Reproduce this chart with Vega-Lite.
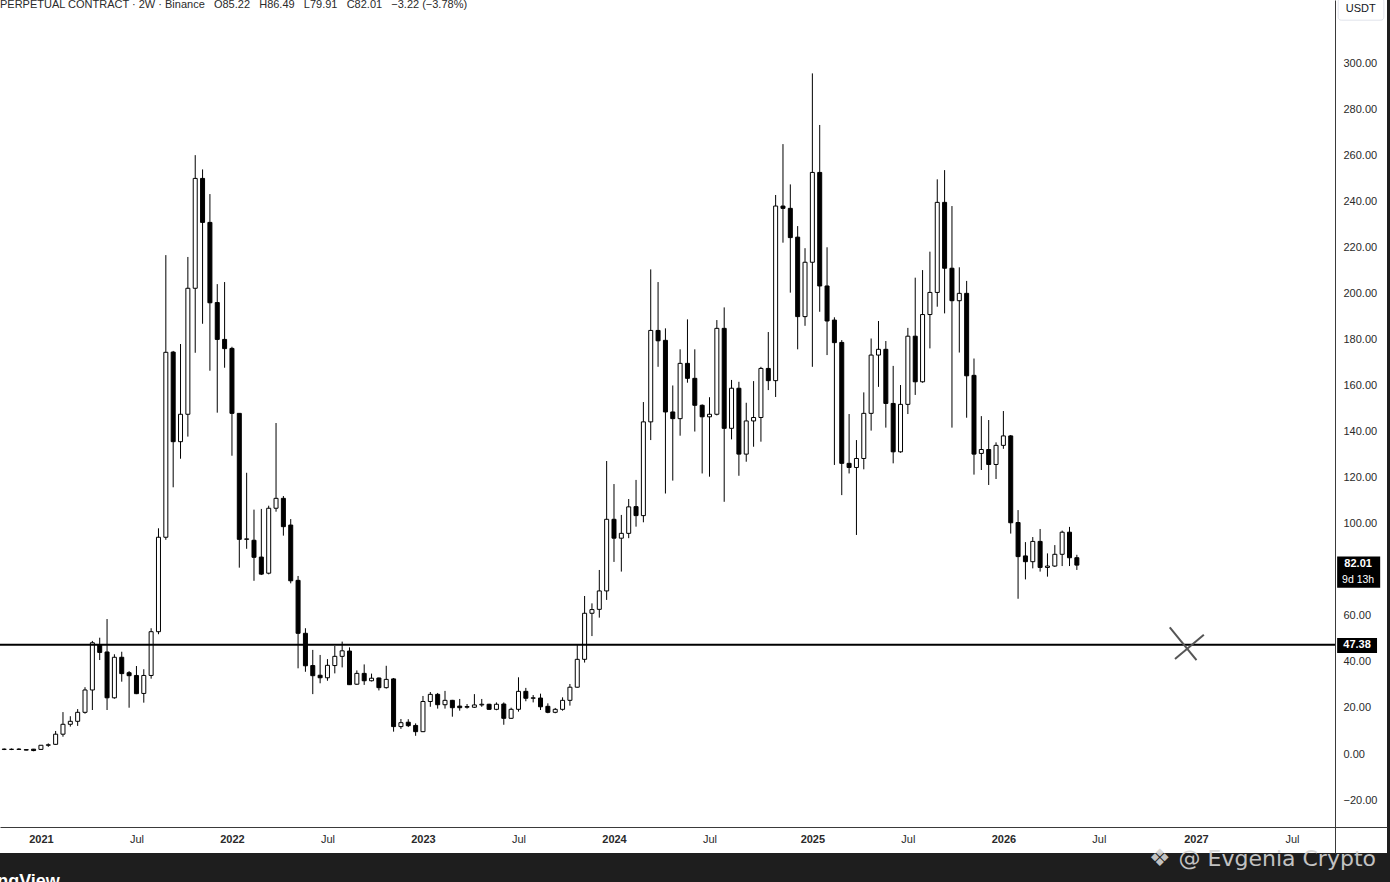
{
  "$schema": "https://vega.github.io/schema/vega-lite/v6.json",
  "width": 1387,
  "height": 853,
  "autosize": {"type": "none"},
  "padding": {"left": 0, "top": 0, "right": 3, "bottom": 29},
  "background": "#1e1e1e",
  "config": {"view": {"fill": "#ffffff", "stroke": null}, "font": "Liberation Sans"},
  "layer": [
    {
      "data": {"values": [
        {"date":"2020-10-26","open":2.0,"high":2.4,"low":1.7,"close":2.1},
        {"date":"2020-11-09","open":2.0,"high":2.4,"low":1.7,"close":2.05},
        {"date":"2020-11-23","open":2.0,"high":2.5,"low":1.8,"close":2.1},
        {"date":"2020-12-07","open":1.9,"high":1.95,"low":1.6,"close":1.7},
        {"date":"2020-12-21","open":2.1,"high":2.2,"low":1.2,"close":1.5},
        {"date":"2021-01-04","open":2.0,"high":3.9,"low":1.8,"close":3.8},
        {"date":"2021-01-18","open":3.8,"high":4.6,"low":3.1,"close":4.0},
        {"date":"2021-02-01","open":4.2,"high":10.0,"low":4.0,"close":8.6},
        {"date":"2021-02-15","open":8.6,"high":18.2,"low":7.5,"close":12.9},
        {"date":"2021-03-01","open":12.9,"high":16.4,"low":11.9,"close":14.2},
        {"date":"2021-03-15","open":14.2,"high":19.5,"low":12.2,"close":18.1},
        {"date":"2021-03-29","open":18.1,"high":29.0,"low":17.5,"close":27.8},
        {"date":"2021-04-12","open":27.8,"high":49.1,"low":19.1,"close":48.3},
        {"date":"2021-04-26","open":47.5,"high":50.5,"low":40.8,"close":44.1},
        {"date":"2021-05-10","open":44.3,"high":58.6,"low":19.1,"close":24.4},
        {"date":"2021-05-24","open":24.4,"high":43.3,"low":24.0,"close":42.0},
        {"date":"2021-06-07","open":42.0,"high":44.4,"low":31.4,"close":34.9},
        {"date":"2021-06-21","open":35.3,"high":36.0,"low":20.1,"close":34.0},
        {"date":"2021-07-05","open":34.1,"high":38.2,"low":26.0,"close":26.2},
        {"date":"2021-07-19","open":26.3,"high":36.8,"low":22.3,"close":34.1},
        {"date":"2021-08-02","open":34.1,"high":54.6,"low":32.7,"close":53.1},
        {"date":"2021-08-16","open":53.1,"high":98.0,"low":52.0,"close":94.1},
        {"date":"2021-08-30","open":94.1,"high":216.6,"low":93.0,"close":174.4},
        {"date":"2021-09-13","open":174.5,"high":175.0,"low":115.8,"close":135.6},
        {"date":"2021-09-27","open":135.6,"high":178.0,"low":128.2,"close":147.5},
        {"date":"2021-10-11","open":147.5,"high":215.8,"low":137.8,"close":202.2},
        {"date":"2021-10-25","open":202.2,"high":260.0,"low":174.2,"close":249.9},
        {"date":"2021-11-08","open":249.9,"high":253.8,"low":186.8,"close":230.8},
        {"date":"2021-11-22","open":230.8,"high":243.1,"low":166.4,"close":195.9},
        {"date":"2021-12-06","open":196.0,"high":204.0,"low":148.2,"close":180.0},
        {"date":"2021-12-20","open":180.0,"high":204.9,"low":167.7,"close":176.0},
        {"date":"2022-01-03","open":176.1,"high":176.8,"low":129.5,"close":147.9},
        {"date":"2022-01-17","open":147.9,"high":148.0,"low":80.9,"close":93.2},
        {"date":"2022-01-31","open":93.2,"high":122.1,"low":89.1,"close":93.4},
        {"date":"2022-02-14","open":92.8,"high":106.1,"low":75.2,"close":85.4},
        {"date":"2022-02-28","open":85.5,"high":106.4,"low":77.7,"close":78.1},
        {"date":"2022-03-14","open":78.5,"high":107.8,"low":78.0,"close":106.7},
        {"date":"2022-03-28","open":106.7,"high":143.7,"low":105.2,"close":111.0},
        {"date":"2022-04-11","open":111.0,"high":112.0,"low":94.8,"close":98.7},
        {"date":"2022-04-25","open":99.4,"high":102.0,"low":74.1,"close":75.2},
        {"date":"2022-05-09","open":75.4,"high":77.3,"low":37.2,"close":52.4},
        {"date":"2022-05-23","open":52.4,"high":54.6,"low":35.7,"close":38.3},
        {"date":"2022-06-06","open":38.4,"high":45.2,"low":26.0,"close":34.0},
        {"date":"2022-06-20","open":34.2,"high":43.0,"low":30.7,"close":33.1},
        {"date":"2022-07-04","open":33.1,"high":41.2,"low":31.8,"close":38.5},
        {"date":"2022-07-18","open":38.4,"high":46.9,"low":35.0,"close":42.4},
        {"date":"2022-08-01","open":42.4,"high":48.8,"low":37.6,"close":44.8},
        {"date":"2022-08-15","open":44.7,"high":46.3,"low":30.0,"close":30.1},
        {"date":"2022-08-29","open":30.3,"high":36.3,"low":30.0,"close":35.0},
        {"date":"2022-09-12","open":35.0,"high":38.9,"low":30.0,"close":31.8},
        {"date":"2022-09-26","open":31.8,"high":34.9,"low":31.5,"close":32.9},
        {"date":"2022-10-10","open":33.0,"high":33.2,"low":27.6,"close":28.8},
        {"date":"2022-10-24","open":28.8,"high":38.3,"low":28.4,"close":32.4},
        {"date":"2022-11-07","open":32.6,"high":33.0,"low":9.7,"close":11.9},
        {"date":"2022-11-21","open":11.9,"high":15.2,"low":10.9,"close":13.6},
        {"date":"2022-12-05","open":13.8,"high":15.1,"low":11.7,"close":12.3},
        {"date":"2022-12-19","open":12.4,"high":13.3,"low":7.9,"close":9.7},
        {"date":"2023-01-02","open":9.7,"high":25.2,"low":9.5,"close":22.8},
        {"date":"2023-01-16","open":22.8,"high":26.9,"low":20.5,"close":25.9},
        {"date":"2023-01-30","open":25.9,"high":26.5,"low":19.7,"close":21.4},
        {"date":"2023-02-13","open":21.4,"high":27.4,"low":19.7,"close":23.3},
        {"date":"2023-02-27","open":23.3,"high":23.5,"low":16.2,"close":20.1},
        {"date":"2023-03-13","open":20.8,"high":23.9,"low":18.8,"close":20.1},
        {"date":"2023-03-27","open":20.3,"high":21.7,"low":19.7,"close":20.6},
        {"date":"2023-04-10","open":20.3,"high":26.0,"low":20.0,"close":21.3},
        {"date":"2023-04-24","open":21.3,"high":23.9,"low":20.5,"close":21.6},
        {"date":"2023-05-08","open":21.6,"high":21.8,"low":19.2,"close":19.4},
        {"date":"2023-05-22","open":19.4,"high":22.4,"low":19.0,"close":21.6},
        {"date":"2023-06-05","open":21.7,"high":22.4,"low":12.7,"close":15.5},
        {"date":"2023-06-19","open":15.5,"high":20.1,"low":15.3,"close":19.4},
        {"date":"2023-07-03","open":19.4,"high":33.3,"low":18.4,"close":27.2},
        {"date":"2023-07-17","open":27.2,"high":28.7,"low":22.9,"close":24.2},
        {"date":"2023-07-31","open":24.2,"high":25.6,"low":22.4,"close":24.4},
        {"date":"2023-08-14","open":24.3,"high":26.2,"low":19.1,"close":20.5},
        {"date":"2023-08-28","open":20.7,"high":22.0,"low":17.7,"close":18.1},
        {"date":"2023-09-11","open":18.1,"high":20.0,"low":17.7,"close":19.4},
        {"date":"2023-09-25","open":19.4,"high":24.6,"low":18.8,"close":23.3},
        {"date":"2023-10-09","open":23.3,"high":30.4,"low":21.0,"close":29.0},
        {"date":"2023-10-23","open":29.0,"high":47.3,"low":28.8,"close":41.1},
        {"date":"2023-11-06","open":41.1,"high":68.6,"low":39.7,"close":61.1},
        {"date":"2023-11-20","open":61.1,"high":65.4,"low":51.2,"close":62.7},
        {"date":"2023-12-04","open":62.8,"high":79.9,"low":59.2,"close":70.8},
        {"date":"2023-12-18","open":70.8,"high":127.2,"low":66.9,"close":101.9},
        {"date":"2024-01-01","open":101.9,"high":117.2,"low":83.4,"close":93.7},
        {"date":"2024-01-15","open":93.7,"high":103.8,"low":79.2,"close":95.8},
        {"date":"2024-01-29","open":95.8,"high":110.7,"low":93.7,"close":107.3},
        {"date":"2024-02-12","open":107.4,"high":119.0,"low":98.7,"close":103.5},
        {"date":"2024-02-26","open":103.5,"high":152.8,"low":100.6,"close":144.2},
        {"date":"2024-03-11","open":144.2,"high":210.4,"low":136.3,"close":183.9},
        {"date":"2024-03-25","open":183.9,"high":204.9,"low":168.1,"close":179.4},
        {"date":"2024-04-08","open":179.6,"high":184.8,"low":113.1,"close":148.5},
        {"date":"2024-04-22","open":148.5,"high":160.0,"low":118.7,"close":145.6},
        {"date":"2024-05-06","open":145.6,"high":175.7,"low":138.2,"close":169.6},
        {"date":"2024-05-20","open":169.6,"high":188.7,"low":161.2,"close":163.1},
        {"date":"2024-06-03","open":163.1,"high":175.7,"low":140.0,"close":151.4},
        {"date":"2024-06-17","open":151.4,"high":151.8,"low":121.8,"close":146.4},
        {"date":"2024-07-01","open":146.4,"high":154.9,"low":120.4,"close":147.5},
        {"date":"2024-07-15","open":147.5,"high":188.4,"low":147.0,"close":184.8},
        {"date":"2024-07-29","open":184.8,"high":193.9,"low":109.5,"close":141.4},
        {"date":"2024-08-12","open":141.4,"high":162.4,"low":136.6,"close":158.8},
        {"date":"2024-08-26","open":158.8,"high":161.6,"low":120.8,"close":130.2},
        {"date":"2024-09-09","open":130.2,"high":152.5,"low":126.9,"close":144.6},
        {"date":"2024-09-23","open":144.6,"high":161.9,"low":133.4,"close":146.1},
        {"date":"2024-10-07","open":146.1,"high":168.1,"low":135.6,"close":167.4},
        {"date":"2024-10-21","open":167.4,"high":183.2,"low":158.0,"close":162.1},
        {"date":"2024-11-04","open":162.1,"high":242.7,"low":155.0,"close":237.9},
        {"date":"2024-11-18","open":237.9,"high":264.8,"low":222.0,"close":236.9},
        {"date":"2024-12-02","open":236.9,"high":247.3,"low":200.3,"close":224.2},
        {"date":"2024-12-16","open":224.4,"high":229.2,"low":175.7,"close":189.9},
        {"date":"2024-12-30","open":189.9,"high":219.6,"low":185.9,"close":213.5},
        {"date":"2025-01-13","open":213.5,"high":295.5,"low":168.1,"close":252.5},
        {"date":"2025-01-27","open":252.5,"high":273.1,"low":192.0,"close":203.2},
        {"date":"2025-02-10","open":203.2,"high":220.0,"low":173.2,"close":188.0},
        {"date":"2025-02-24","open":188.4,"high":189.6,"low":125.5,"close":178.6},
        {"date":"2025-03-10","open":178.7,"high":179.7,"low":112.4,"close":126.2},
        {"date":"2025-03-24","open":126.2,"high":147.6,"low":121.8,"close":124.4},
        {"date":"2025-04-07","open":124.4,"high":136.3,"low":95.1,"close":128.3},
        {"date":"2025-04-21","open":128.3,"high":157.0,"low":123.6,"close":147.9},
        {"date":"2025-05-05","open":147.9,"high":180.4,"low":140.4,"close":173.2},
        {"date":"2025-05-19","open":173.2,"high":188.0,"low":159.4,"close":175.7},
        {"date":"2025-06-02","open":175.7,"high":179.3,"low":141.7,"close":152.2},
        {"date":"2025-06-16","open":152.2,"high":168.5,"low":126.2,"close":131.2},
        {"date":"2025-06-30","open":131.2,"high":160.2,"low":130.8,"close":151.8},
        {"date":"2025-07-14","open":151.8,"high":185.0,"low":147.6,"close":181.4},
        {"date":"2025-07-28","open":181.4,"high":206.8,"low":155.9,"close":161.6},
        {"date":"2025-08-11","open":161.6,"high":210.1,"low":161.2,"close":190.8},
        {"date":"2025-08-25","open":190.8,"high":218.1,"low":176.1,"close":200.4},
        {"date":"2025-09-08","open":200.4,"high":249.5,"low":194.2,"close":239.5},
        {"date":"2025-09-22","open":239.5,"high":253.5,"low":191.3,"close":210.9},
        {"date":"2025-10-06","open":210.9,"high":237.9,"low":141.7,"close":196.8},
        {"date":"2025-10-20","open":196.8,"high":211.3,"low":174.3,"close":200.0},
        {"date":"2025-11-03","open":200.0,"high":205.4,"low":146.0,"close":164.2},
        {"date":"2025-11-17","open":164.4,"high":171.7,"low":121.3,"close":130.2},
        {"date":"2025-12-01","open":130.5,"high":146.7,"low":123.3,"close":132.2},
        {"date":"2025-12-15","open":132.2,"high":145.0,"low":116.8,"close":125.7},
        {"date":"2025-12-29","open":125.7,"high":135.3,"low":119.4,"close":134.0},
        {"date":"2026-01-12","open":134.0,"high":148.9,"low":132.5,"close":138.1},
        {"date":"2026-01-26","open":138.1,"high":138.5,"low":95.7,"close":100.4},
        {"date":"2026-02-09","open":100.5,"high":105.9,"low":67.4,"close":85.7},
        {"date":"2026-02-23","open":86.0,"high":92.0,"low":75.8,"close":83.5},
        {"date":"2026-03-09","open":83.5,"high":94.2,"low":80.6,"close":92.3},
        {"date":"2026-03-23","open":92.3,"high":97.7,"low":79.2,"close":81.0},
        {"date":"2026-04-06","open":81.0,"high":87.1,"low":77.0,"close":81.6},
        {"date":"2026-04-20","open":81.6,"high":90.7,"low":81.2,"close":86.7},
        {"date":"2026-05-04","open":86.7,"high":97.0,"low":81.6,"close":96.3},
        {"date":"2026-05-18","open":96.3,"high":98.6,"low":81.6,"close":85.2},
        {"date":"2026-06-01","open":85.22,"high":86.49,"low":79.91,"close":82.01}
      ]},
      "encoding": {
        "x": {
          "field": "date", "type": "temporal", "title": null,
          "scale": {"domain": [{"year": 2020, "month": 10, "date": 18, "utc": true}, {"year": 2028, "month": 1, "date": 13, "utc": true}], "nice": false, "padding": 0},
          "axis": {
            "orient": "bottom", "offset": -26, "ticks": false, "grid": false,
            "domainColor": "#3a3a3a", "domainWidth": 1,
            "labelPadding": 6, "labelFontSize": 11, "labelColor": "#2a2a2a", "labelFont": "Liberation Sans",
            "labelFlush": false, "labelOverlap": false,
            "labelFontWeight": {"condition": {"test": "utcmonth(datum.value) == 0", "value": "bold"}, "value": "normal"},
            "labelExpr": "utcmonth(datum.value) == 0 ? utcFormat(datum.value, '%Y') : utcFormat(datum.value, '%b')",
            "values": [
              {"year": 2021, "month": 1, "date": 4, "utc": true}, {"year": 2021, "month": 7, "date": 5, "utc": true},
              {"year": 2022, "month": 1, "date": 3, "utc": true}, {"year": 2022, "month": 7, "date": 4, "utc": true},
              {"year": 2023, "month": 1, "date": 2, "utc": true}, {"year": 2023, "month": 7, "date": 3, "utc": true},
              {"year": 2024, "month": 1, "date": 1, "utc": true}, {"year": 2024, "month": 7, "date": 1, "utc": true},
              {"year": 2025, "month": 1, "date": 13, "utc": true}, {"year": 2025, "month": 7, "date": 14, "utc": true},
              {"year": 2026, "month": 1, "date": 12, "utc": true}, {"year": 2026, "month": 7, "date": 13, "utc": true},
              {"year": 2027, "month": 1, "date": 14, "utc": true}, {"year": 2027, "month": 7, "date": 16, "utc": true}
            ]
          }
        }
      },
      "layer": [
        {
          "mark": {"type": "rule", "color": "#000000", "strokeWidth": 1},
          "encoding": {
            "y": {
              "field": "low", "type": "quantitative", "title": null,
              "scale": {"domain": [-42.98, 327.36], "nice": false, "zero": false},
              "axis": {
                "orient": "right", "offset": -52, "ticks": false, "grid": false, "title": null,
                "domainColor": "#3a3a3a", "domainWidth": 1,
                "values": [-20, 0, 20, 40, 60, 80, 100, 120, 140, 160, 180, 200, 220, 240, 260, 280, 300],
                "format": ".2f", "labelPadding": 8, "labelAlign": "left",
                "labelFontSize": 11, "labelColor": "#2a2a2a", "labelFont": "Liberation Sans",
                "labelFlush": false, "labelOverlap": false
              }
            },
            "y2": {"field": "high"}
          }
        },
        {
          "mark": {"type": "bar", "size": 4, "stroke": "#000000", "strokeWidth": 1},
          "encoding": {
            "y": {"field": "open", "type": "quantitative", "title": null},
            "y2": {"field": "close"},
            "fill": {"condition": {"test": "datum.close >= datum.open", "value": "#ffffff"}, "value": "#000000"}
          }
        }
      ]
    },
    {
      "data": {"values": [{}]},
      "mark": {"type": "rule", "color": "#000000", "strokeWidth": 2},
      "encoding": {
        "x": {"datum": {"year": 2020, "month": 10, "date": 18, "utc": true}, "type": "temporal"},
        "x2": {"datum": {"year": 2027, "month": 10, "date": 6, "utc": true}},
        "y": {"datum": 47.38, "type": "quantitative"}
      }
    },
    {
      "data": {"values": [{}]},
      "mark": {"type": "rule", "color": "#555555", "strokeWidth": 2},
      "encoding": {
        "x": {"datum": {"year": 2026, "month": 11, "date": 25, "utc": true}, "type": "temporal"},
        "x2": {"datum": {"year": 2027, "month": 1, "date": 15, "utc": true}},
        "y": {"datum": 55.0, "type": "quantitative"},
        "y2": {"datum": 40.8}
      }
    },
    {
      "data": {"values": [{}]},
      "mark": {"type": "rule", "color": "#555555", "strokeWidth": 2},
      "encoding": {
        "x": {"datum": {"year": 2026, "month": 12, "date": 5, "utc": true}, "type": "temporal"},
        "x2": {"datum": {"year": 2027, "month": 1, "date": 29, "utc": true}},
        "y": {"datum": 41.25, "type": "quantitative"},
        "y2": {"datum": 51.8}
      }
    },
    {
      "data": {"values": [{}]},
      "mark": {"type": "rect", "color": "#000000"},
      "encoding": {
        "x": {"datum": {"year": 2027, "month": 10, "date": 10, "utc": true}, "type": "temporal"},
        "x2": {"datum": {"year": 2027, "month": 12, "date": 25, "utc": true}},
        "y": {"datum": 50.36, "type": "quantitative"},
        "y2": {"datum": 43.85}
      }
    },
    {
      "data": {"values": [{}]},
      "mark": {"type": "text", "color": "#ffffff", "font": "Liberation Sans", "fontSize": 11, "fontWeight": "bold", "align": "center", "baseline": "middle"},
      "encoding": {
        "x": {"datum": {"year": 2027, "month": 11, "date": 17, "utc": true}, "type": "temporal"},
        "y": {"datum": 47.38, "type": "quantitative"},
        "text": {"value": "47.38"}
      }
    },
    {
      "data": {"values": [{}]},
      "mark": {"type": "rect", "color": "#000000"},
      "encoding": {
        "x": {"datum": {"year": 2027, "month": 10, "date": 10, "utc": true}, "type": "temporal"},
        "x2": {"datum": {"year": 2027, "month": 12, "date": 31, "utc": true}},
        "y": {"datum": 85.8, "type": "quantitative"},
        "y2": {"datum": 72.2}
      }
    },
    {
      "data": {"values": [{}]},
      "mark": {"type": "text", "color": "#ffffff", "font": "Liberation Sans", "fontSize": 11, "fontWeight": "bold", "align": "center", "baseline": "middle"},
      "encoding": {
        "x": {"datum": {"year": 2027, "month": 11, "date": 19, "utc": true}, "type": "temporal"},
        "y": {"datum": 82.4, "type": "quantitative"},
        "text": {"value": "82.01"}
      }
    },
    {
      "data": {"values": [{}]},
      "mark": {"type": "text", "color": "#ffffff", "font": "Liberation Sans", "fontSize": 10.5, "align": "center", "baseline": "middle"},
      "encoding": {
        "x": {"datum": {"year": 2027, "month": 11, "date": 19, "utc": true}, "type": "temporal"},
        "y": {"datum": 75.5, "type": "quantitative"},
        "text": {"value": "9d 13h"}
      }
    },
    {
      "data": {"values": [{}]},
      "mark": {"type": "rect", "fill": "#ffffff", "stroke": "#e0e3eb", "strokeWidth": 1, "cornerRadius": 3},
      "encoding": {
        "x": {"datum": {"year": 2027, "month": 10, "date": 12, "utc": true}, "type": "temporal"},
        "x2": {"datum": {"year": 2028, "month": 1, "date": 7, "utc": true}},
        "y": {"datum": 328.2, "type": "quantitative"},
        "y2": {"datum": 318.6}
      }
    },
    {
      "data": {"values": [{}]},
      "mark": {"type": "text", "color": "#131722", "font": "Liberation Sans", "fontSize": 11, "align": "center", "baseline": "middle"},
      "encoding": {
        "x": {"datum": {"year": 2027, "month": 11, "date": 24, "utc": true}, "type": "temporal"},
        "y": {"datum": 323.5, "type": "quantitative"},
        "text": {"value": "USDT"}
      }
    },
    {
      "data": {"values": [{}]},
      "mark": {"type": "text", "color": "#2a2a2a", "font": "Liberation Sans", "fontSize": 11, "align": "left", "baseline": "top"},
      "encoding": {
        "x": {"datum": {"year": 2020, "month": 10, "date": 18, "utc": true}, "type": "temporal"},
        "y": {"datum": 327.8, "type": "quantitative"},
        "text": {"value": "PERPETUAL CONTRACT · 2W · Binance\u00a0\u00a0\u00a0O85.22\u00a0\u00a0\u00a0H86.49\u00a0\u00a0\u00a0L79.91\u00a0\u00a0\u00a0C82.01\u00a0\u00a0\u00a0−3.22 (−3.78%)"}
      }
    },
    {
      "data": {"values": [{}]},
      "mark": {"type": "text", "color": "#d4d4d4", "opacity": 0.9, "font": "DejaVu Sans", "fontSize": 22, "align": "right", "baseline": "alphabetic"},
      "encoding": {
        "x": {"datum": {"year": 2027, "month": 12, "date": 23, "utc": true}, "type": "temporal"},
        "y": {"datum": -48.6, "type": "quantitative"},
        "text": {"value": "@ Evgenia Crypto"}
      }
    },
    {
      "data": {"values": [{}]},
      "mark": {"type": "text", "color": "#d4d4d4", "opacity": 0.9, "font": "DejaVu Sans", "fontSize": 24, "align": "center", "baseline": "middle"},
      "encoding": {
        "x": {"datum": {"year": 2026, "month": 11, "date": 6, "utc": true}, "type": "temporal"},
        "y": {"datum": -45.6, "type": "quantitative"},
        "text": {"value": "❖"}
      }
    },
    {
      "data": {"values": [{}]},
      "mark": {"type": "text", "color": "#ffffff", "font": "Liberation Sans", "fontSize": 18, "fontWeight": "bold", "align": "right", "baseline": "top"},
      "encoding": {
        "x": {"datum": {"year": 2021, "month": 2, "date": 9, "utc": true}, "type": "temporal"},
        "y": {"datum": -51.7, "type": "quantitative"},
        "text": {"value": "TradingView"}
      }
    }
  ]
}
